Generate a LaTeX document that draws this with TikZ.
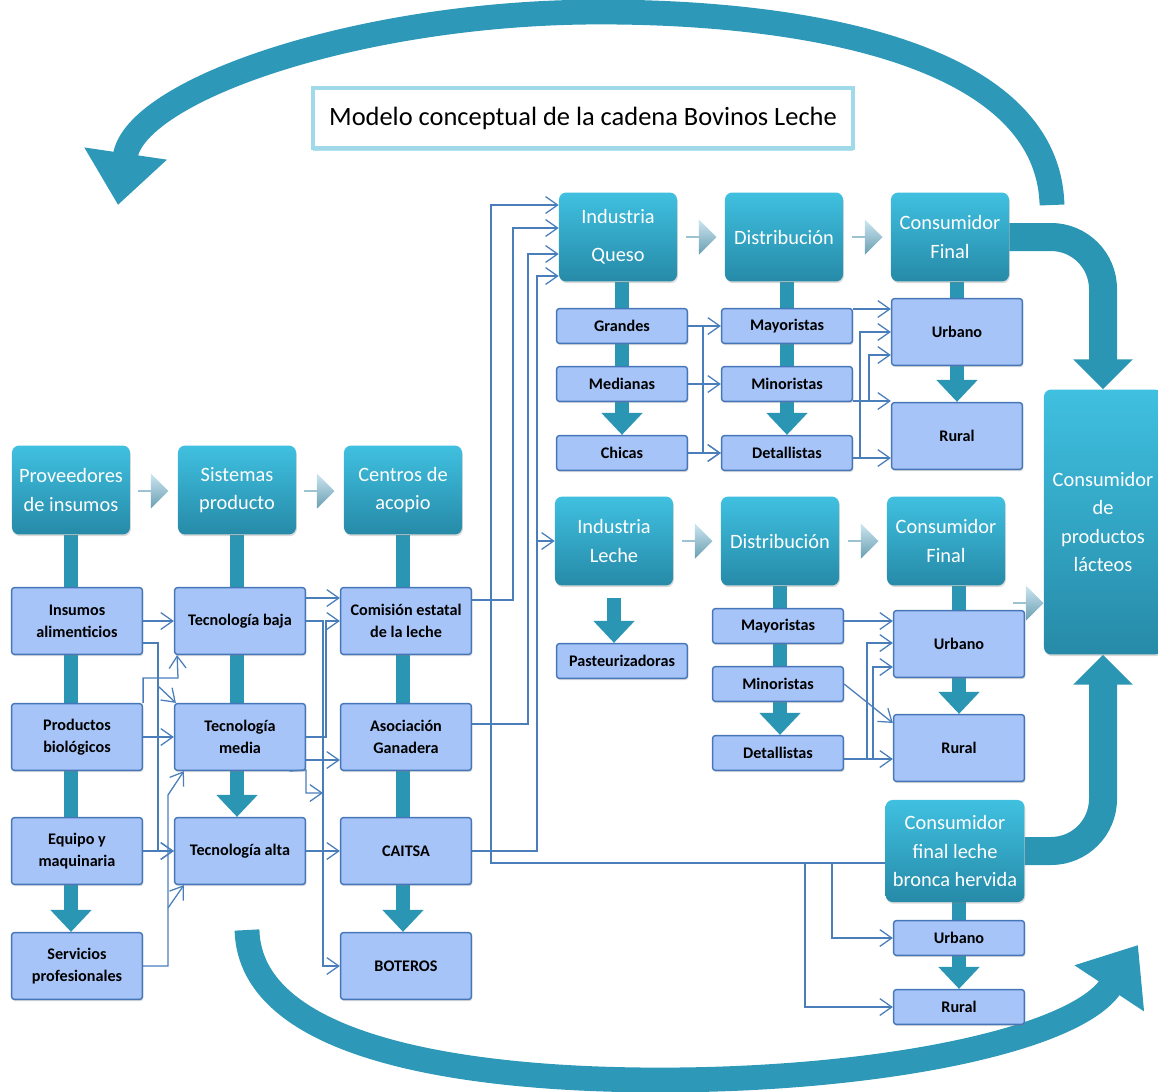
\documentclass[tikz,border=0pt]{standalone}
\usepackage{fontspec}
\setmainfont{Carlito}
\usetikzlibrary{arrows.meta,shapes.arrows,shadows,backgrounds}

\definecolor{hdrtop}{RGB}{64,192,224}
\definecolor{hdrbot}{RGB}{38,138,168}
\definecolor{subfill}{RGB}{166,196,248}
\definecolor{subline}{RGB}{70,118,184}
\definecolor{linkc}{RGB}{74,126,187}
\definecolor{stemc}{RGB}{42,150,180}
\definecolor{arcc}{RGB}{45,152,184}
\definecolor{chevtop}{RGB}{205,230,240}
\definecolor{chevbot}{RGB}{105,158,178}
\definecolor{glowc}{RGB}{160,218,234}

\tikzset{
  hdr/.style={rounded corners=5pt, top color=hdrtop, bottom color=hdrbot, text=white, align=center,
    font=\fontsize{14.5}{20}\selectfont, minimum width=2.95cm, minimum height=2.22cm, inner sep=1pt,
    drop shadow={opacity=0.3, shadow xshift=0.6pt, shadow yshift=-1.2pt}},
  subbox/.style={fill=subfill, draw=subline, line width=1pt, rounded corners=2pt, align=center,
    font=\bfseries\fontsize{11.5}{15.5}\selectfont, minimum width=3.27cm, minimum height=1.67cm, inner sep=1pt,
    drop shadow={opacity=0.3, shadow xshift=0.6pt, shadow yshift=-1.2pt}},
  flat/.style={subbox, minimum height=0.87cm},
  title/.style={fill=white, draw=glowc, line width=2.5pt, minimum width=13.5cm, minimum height=1.5cm,
    font=\fontsize{18.8}{22}\selectfont, drop shadow={fill=glowc, opacity=0.8, shadow xshift=0pt, shadow yshift=-2pt}},
  link/.style={draw=linkc, line width=0.9pt, -{Straight Barb[length=0.3cm,width=0.42cm]}},
  stem/.style={draw=stemc, line width=0.35cm},
  stemarr/.style={stem, -{Triangle[width=1cm,length=0.55cm]}},
  chev/.style={single arrow, single arrow head extend=0.12cm, minimum width=0.88cm, minimum height=0.75cm,
    inner sep=0pt, top color=chevtop, bottom color=chevbot},
  bigarr/.style={draw=stemc, line width=0.7cm, rounded corners=1.3cm, -{Triangle[width=1.45cm,length=0.75cm]}},
  loop/.style={draw=arcc, line width=0.62cm, -{Triangle[width=2cm,length=1.3cm]}}
}

\begin{document}
\begin{tikzpicture}[x=0.025cm, y=-0.025cm]
\useasboundingbox (0,0) rectangle (1158,1092);

% Title
\node[title] (title) at (583,118) {Modelo conceptual de la cadena Bovinos Leche};

% Header row
\node[hdr] (prov) at (71,490) {Proveedores\\de insumos};
\node[hdr] (sist) at (237,490) {Sistemas\\producto};
\node[hdr] (cent) at (403,490) {Centros de\\acopio};
\node[hdr] (indQ) at (618,237) {Industria\\[0.25cm]Queso};
\node[hdr] (distQ) at (784,237) {Distribución};
\node[hdr] (consQ) at (950,237) {Consumidor\\Final};
\node[hdr] (indL) at (614,541) {Industria\\Leche};
\node[hdr] (distL) at (780,541) {Distribución};
\node[hdr] (consL) at (946,541) {Consumidor\\Final};
\node[hdr, minimum width=3.47cm, minimum height=2.55cm] (consBH) at (955,851) {Consumidor\\final leche\\bronca hervida};
\node[hdr, minimum height=6.62cm] (consLac) at (1103,522) {Consumidor\\de\\productos\\lácteos};

% Chevrons
\node[chev] (chPS) at (153,491) {};
\node[chev] (chSC) at (319,491) {};
\node[chev] (chQD) at (701,237) {};
\node[chev] (chDC) at (867,237) {};
\node[chev] (chLD) at (697,541) {};
\node[chev] (chLC) at (863,541) {};
\node[chev] (chLac) at (1028,603) {};

% Proveedores
\node[subbox] (insumos) at (77,621) {Insumos\\alimenticios};
\node[subbox] (biol) at (77,737) {Productos\\biológicos};
\node[subbox] (equipo) at (77,851) {Equipo y\\maquinaria};
\node[subbox] (serv) at (77,966) {Servicios\\profesionales};

% Sistemas producto
\node[subbox] (tbaja) at (240,621) {Tecnología baja};
\node[subbox] (tmedia) at (240,737) {Tecnología\\media};
\node[subbox] (talta) at (240,851) {Tecnología alta};

% Centros de acopio
\node[subbox] (comision) at (406,621) {Comisión estatal\\de la leche};
\node[subbox] (asoc) at (406,737) {Asociación\\Ganadera};
\node[subbox] (caitsa) at (406,851) {CAITSA};
\node[subbox] (boteros) at (406,966) {BOTEROS};

% Queso
\node[flat] (grandes) at (622,326) {Grandes};
\node[flat] (medianas) at (622,384) {Medianas};
\node[flat] (chicas) at (622,453) {Chicas};
\node[flat] (mayQ) at (787,326) {Mayoristas};
\node[flat] (minQ) at (787,384) {Minoristas};
\node[flat] (detQ) at (787,453) {Detallistas};
\node[subbox] (urbQ) at (957,332) {Urbano};
\node[subbox] (rurQ) at (957,436) {Rural};

% Leche
\node[flat] (past) at (622,661) {Pasteurizadoras};
\node[flat] (mayL) at (778,626) {Mayoristas};
\node[flat] (minL) at (778,684) {Minoristas};
\node[flat] (detL) at (778,753) {Detallistas};
\node[subbox] (urbL) at (959,644) {Urbano};
\node[subbox] (rurL) at (959,748) {Rural};
\node[flat] (urbBH) at (959,938) {Urbano};
\node[flat] (rurBH) at (959,1007) {Rural};

% Stems and loops
\begin{scope}[on background layer]
\draw[loop] (1052,205) .. controls (1048,55) and (810,12) .. (600,12) .. controls (360,12) and (135,90) .. (118,205);
\draw[loop] (247,930) .. controls (250,1050) and (470,1080) .. (660,1080) .. controls (880,1080) and (1075,1040) .. (1138,945);
\draw[stemarr] (prov.south) -- (prov.south |- serv.north);
\draw[stemarr] (sist.south) -- (sist.south |- talta.north);
\draw[stemarr] (cent.south) -- (cent.south |- boteros.north);
\draw[stemarr] (chicas.north |- indQ.south) -- (chicas.north);
\draw[stemarr] (detQ.north |- distQ.south) -- (detQ.north);
\draw[stem] (urbQ.north |- consQ.south) -- (urbQ.north);
\draw[stemarr] (urbQ.south) -- (rurQ.north);
\draw[stemarr] (indL.south |- 0,598) -- (indL.south |- past.north);
\draw[stemarr] (distL.south) -- (distL.south |- detL.north);
\draw[stem] (urbL.north |- consL.south) -- (urbL.north);
\draw[stemarr] (urbL.south) -- (rurL.north);
\draw[stem] (urbBH.north |- consBH.south) -- (urbBH.north);
\draw[stemarr] (urbBH.south) -- (rurBH.north);
\draw[bigarr] (consQ.east) -| (consLac.north);
\draw[bigarr] (consBH.east) -| (consLac.south);
\end{scope}

% Proveedores -> Sistemas producto
\draw[link] (insumos.east) -- (tbaja.west);
\draw[link] (insumos.east |- 0,643) -| (158,851) -- (talta.west);
\coordinate (busI) at (158,686);
\draw[link] (busI) -- ([xshift=0.05cm]tmedia.north west);
\draw[link] (biol.north east) |- (178,678) -- ([xshift=0.08cm]tbaja.south west);
\draw[link] (biol.east) -- (tmedia.west);
\draw[link] (equipo.east) -- (talta.west);
\draw[link] (serv.east) -| (168,795) -- ([xshift=0.25cm]tmedia.south west);
\coordinate (busS) at (168,908);
\draw[link] (busS) -- ([xshift=0.25cm]talta.south west);

% Sistemas producto -> Centros de acopio
\draw[link] (tbaja.east |- 0,598) -- (comision.west |- 0,598);
\draw[link] (tbaja.east) -| (323,966) -- (boteros.west);
\draw[link] (tmedia.east) -| (326,621) -- (comision.west);
\draw[link] (tmedia.east |- 0,760) -- (asoc.west |- 0,760);
\coordinate (busT) at (323,793);
\draw[link] ([xshift=-0.42cm]tmedia.south east) -- (306,770) |- (busT);
\draw[link] (talta.east) -- (caitsa.west);

% Centros de acopio -> Industria
\draw[link] (comision.east |- 0,600) -| (513,228) -- (indQ.west |- 0,228);
\draw[link] (asoc.east |- 0,724) -| (528,254) -- (indQ.west |- 0,254);
\draw[link] (caitsa.east) -| (537,276) -- (indQ.west |- 0,276);
\coordinate (busC) at (537,541);
\draw[link] (busC) -- (indL.west);
\draw[link] (consBH.west |- 0,863) -| (491,205) -- (indQ.west |- 0,205);
\coordinate (busH) at (832,863);
\coordinate (busR) at (805,863);
\draw[link] (busH) |- (urbBH.west);
\draw[link] (busR) |- (rurBH.west);

% Queso
\draw[link] (grandes.east) -- (mayQ.west);
\draw[link] (medianas.east) -- (minQ.west);
\draw[link] (chicas.east) -- (detQ.west);
\coordinate (busG) at (703,326);
\draw[link] (busG) |- (detQ.west);
\draw[link] (mayQ.east |- 0,309) -- (urbQ.west |- 0,309);
\draw[link] (detQ.east |- 0,458) -| (860,332) -- (urbQ.west |- 0,332);
\draw[link] (detQ.east |- 0,458) -- (rurQ.west |- 0,458);
\draw[link] (minQ.east |- 0,401) -| (869,355) -- (urbQ.west |- 0,355);
\draw[link] (minQ.east |- 0,401) -- (rurQ.west |- 0,401);

% Leche
\draw[link] (mayL.east |- 0,621) -- (urbL.west |- 0,621);
\draw[link] (minL.east) -- (rurL.west |- 0,723);
\draw[link] (detL.east |- 0,759) -- (rurL.west |- 0,759);
\draw[link] (detL.east |- 0,759) -| (867,643) -- (urbL.west |- 0,643);
\draw[link] (detL.east |- 0,759) -| (873,667) -- (urbL.west |- 0,667);
\end{tikzpicture}
\end{document}
